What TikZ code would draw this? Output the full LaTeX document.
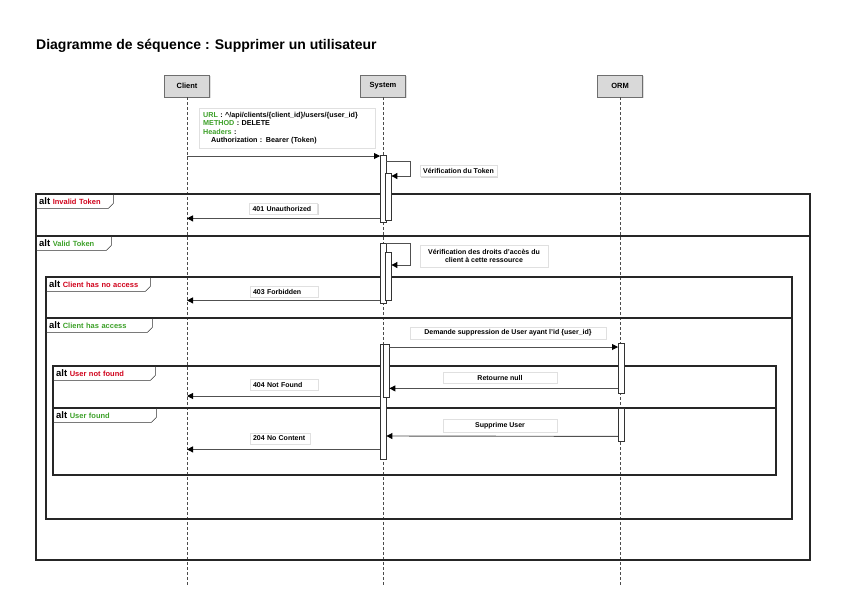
\documentclass[tikz,border=0pt]{standalone}
\usepackage{fontspec}
\setmainfont{Liberation Sans}
\usepackage{xcolor}
\usetikzlibrary{arrows.meta,positioning,shadows}

\definecolor{headfill}{RGB}{217,217,217}
\definecolor{headline}{RGB}{110,110,110}
\definecolor{altred}{RGB}{208,2,27}
\definecolor{altgreen}{RGB}{60,160,40}
\definecolor{msgline}{RGB}{80,80,80}

\begin{document}
\begin{tikzpicture}[x=1pt, y=-1pt,
  head/.style={draw=headline, fill=headfill, minimum width=45pt, minimum height=22pt, font=\fontsize{7.5}{9}\selectfont\bfseries, drop shadow={shadow xshift=1pt, shadow yshift=-1pt, opacity=.25}},
  life/.style={draw=black!70, thin, dash pattern=on 3pt off 2pt},
  act/.style={draw=black!80, fill=white, minimum width=6pt, inner sep=0pt, anchor=north west},
  msg/.style={draw=msgline, line width=0.9pt, -{Triangle[length=6pt, width=6pt, color=black]}},
  lbl/.style={draw=black!12, fill=white, font=\fontsize{7}{8.5}\selectfont\bfseries, inner sep=3pt, drop shadow={shadow xshift=1.2pt, shadow yshift=-1.2pt, opacity=.3}},
  status/.style={lbl, text width=62pt, align=left},
  frame/.style={draw=black!85, line width=1.3pt},
  tag/.style={anchor=north west, inner xsep=3pt, inner ysep=0pt, minimum height=14pt, align=left, font=\fontsize{7.5}{9}\selectfont\bfseries},
  tagline/.style={draw=black!80, line width=0.6pt},
]
\useasboundingbox (0,0) rectangle (842,595);

\node[anchor=west, inner sep=0pt, font=\fontsize{14}{16}\selectfont\bfseries] (title) at (36,46) {Diagramme de séquence : Supprimer un utilisateur};

% participants
\node[head] (client) at (187,86) {Client};
\node[head] (system) at (383,86) {System};
\node[head] (orm) at (620,86) {ORM};

\coordinate (clientEnd) at (187,585);
\coordinate (systemEnd) at (383,585);
\coordinate (ormEnd) at (620,585);
\draw[life] (client) -- (clientEnd);
\draw[life] (system) -- (systemEnd);
\draw[life] (orm) -- (ormEnd);

% alt frames
\draw[frame] (36,194) rectangle (810,560);
\draw[frame] (36,236) -- (810,236);
\draw[frame] (46,277) rectangle (792,519);
\draw[frame] (46,318) -- (792,318);
\draw[frame] (53,366) rectangle (776,475);
\draw[frame] (53,408) -- (776,408);

\node[tag, text width=71pt] (tagInvalid) at (36,194) {{\fontsize{9.5}{10}\selectfont alt} \textcolor{altred}{Invalid Token}};
\node[tag, text width=69pt] (tagValid) at (36,236) {{\fontsize{9.5}{10}\selectfont alt} \textcolor{altgreen}{Valid Token}};
\node[tag, text width=98pt] (tagNoAccess) at (46,277) {{\fontsize{9.5}{10}\selectfont alt} \textcolor{altred}{Client has no access}};
\node[tag, text width=100pt] (tagAccess) at (46,318) {{\fontsize{9.5}{10}\selectfont alt} \textcolor{altgreen}{Client has access}};
\node[tag, text width=96pt] (tagNotFound) at (53,366) {{\fontsize{9.5}{10}\selectfont alt} \textcolor{altred}{User not found}};
\node[tag, text width=97pt] (tagFound) at (53,408) {{\fontsize{9.5}{10}\selectfont alt} \textcolor{altgreen}{User found}};
\foreach \t in {tagInvalid,tagValid,tagNoAccess,tagAccess,tagNotFound,tagFound}
  \draw[tagline] (\t.north east) -- ([yshift=5pt]\t.south east) -- ([xshift=-5pt]\t.south east) -- (\t.south west);

% request note
\node[lbl, anchor=north west, text width=168pt, minimum height=40pt, align=left, inner xsep=4pt, font=\fontsize{7.2}{8.4}\selectfont\bfseries] (req) at (199,108)
  {\textcolor{altgreen}{URL} : \textasciicircum/api/clients/\{client\_id\}/users/\{user\_id\}\\
   \textcolor{altgreen}{METHOD} : DELETE\\
   \textcolor{altgreen}{Headers} :\\
   \hspace*{8pt}Authorization : Bearer (Token)};

% activations
\node[act, minimum height=67pt] (a1) at (380,155) {};
\node[act, minimum height=47pt] (a1b) at (385,173) {};
\node[act, minimum height=60pt] (a2) at (380,243) {};
\node[act, minimum height=48pt] (a2b) at (385,252) {};
\node[act, minimum height=115pt] (a3) at (380,344) {};
\node[act, minimum height=53pt] (a3b) at (383,344) {};
\node[act, minimum height=50pt] (o1) at (618,343) {};
\node[act, minimum height=33pt] (o2) at (618,408) {};

% messages
\draw[msg] ([yshift=-1pt]a1.north west -| client) -- ([yshift=-1pt]a1.north west);
\draw[msg] ([yshift=-6pt]a1.north east) -- ++(24,0) |- ([yshift=-3pt]a1b.north east);
\node[lbl] (chkToken) at (458.5,171) {Vérification du Token};
\draw[msg] ([yshift=4pt]a1.south west) -- ([yshift=4pt]a1.south west -| client);
\node[status] (m401) at (283.5,208.5) {401~Unauthorized};

\draw[msg] (a2.north east) -- ++(24,0) |- ([yshift=-13pt]a2b.north east);
\node[lbl, align=center, minimum width=128pt, minimum height=22pt, inner sep=2pt] (chkRights) at (484,256) {Vérification des droits d'accès du\\client à cette ressource};
\draw[msg] ([yshift=3pt]a2.south west) -- ([yshift=3pt]a2.south west -| client);
\node[status] (m403) at (284,291.5) {403~Forbidden};

\draw[msg] ([yshift=-3pt]a3b.north east) -- ([yshift=-4pt]o1.north west);
\node[lbl, minimum width=196pt] (askDelete) at (508,333) {Demande suppression de User ayant l'id \{user\_id\}};
\draw[msg] ([yshift=5pt]o1.south west) -- ([yshift=9pt]a3b.south east);
\node[lbl, minimum width=114pt] (retNull) at (500,377.5) {Retourne null};
\draw[msg] ([yshift=-52pt]a3.north west) -- ([yshift=-52pt]a3.north west -| client);
\node[status] (m404) at (284,384.5) {404~Not~Found};

\draw[msg] ([yshift=5pt]o2.south west) -- ([yshift=-92pt]a3.north east);
\node[lbl, minimum width=114pt] (delUser) at (500,425.5) {Supprime User};
\draw[msg] ([yshift=10pt]a3.south west) -- ([yshift=10pt]a3.south west -| client);
\node[status, text width=54pt] (m204) at (280,438.5) {204~No~Content};

\end{tikzpicture}
\end{document}
